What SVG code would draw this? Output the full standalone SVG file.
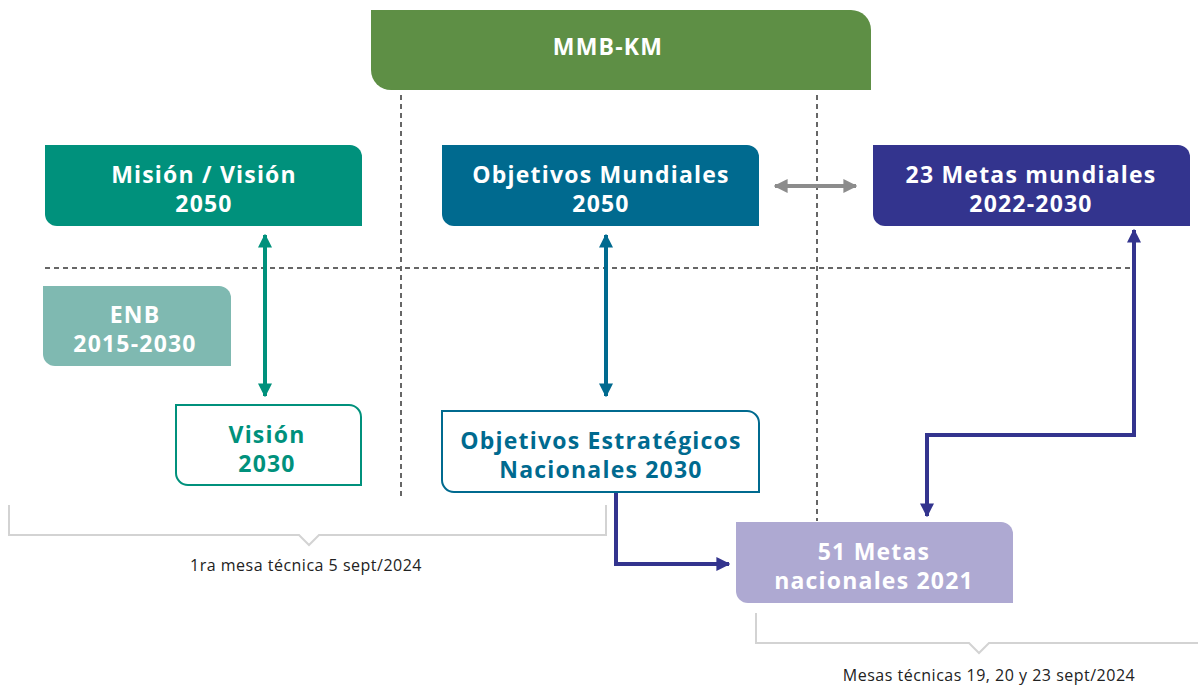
<svg xmlns="http://www.w3.org/2000/svg" width="1198" height="686" viewBox="0 0 1198 686">
<defs>
<style>
.t{font-family:"Open Sans","Liberation Sans",sans-serif;font-weight:700;font-size:23px;letter-spacing:1.2px;text-anchor:middle;fill:#fff}
.s{font-family:"Open Sans","Liberation Sans",sans-serif;font-size:16px;letter-spacing:0.5px;text-anchor:middle;fill:#222}
.dash{stroke:#666;stroke-width:2;stroke-dasharray:5 4;fill:none}
.br{stroke:#d3d3d3;stroke-width:2;fill:none}
</style>
<marker id="aTeal" viewBox="0 0 10 10" refX="9" refY="5" markerWidth="14" markerHeight="14" markerUnits="userSpaceOnUse" orient="auto-start-reverse"><path d="M0,0L10,5L0,10z" fill="#00917c"/></marker>
<marker id="aBlue" viewBox="0 0 10 10" refX="9" refY="5" markerWidth="14" markerHeight="14" markerUnits="userSpaceOnUse" orient="auto-start-reverse"><path d="M0,0L10,5L0,10z" fill="#006a8f"/></marker>
<marker id="aNavy" viewBox="0 0 10 10" refX="9" refY="5" markerWidth="14" markerHeight="14" markerUnits="userSpaceOnUse" orient="auto-start-reverse"><path d="M0,0L10,5L0,10z" fill="#33348e"/></marker>
<marker id="aGray" viewBox="0 0 10 10" refX="9" refY="5" markerWidth="14" markerHeight="14" markerUnits="userSpaceOnUse" orient="auto-start-reverse"><path d="M0,0L10,5L0,10z" fill="#8c8c8c"/></marker>
</defs>
<rect width="1198" height="686" fill="#fff"/>
<g id="grid">
<line class="dash" x1="401" y1="95" x2="401" y2="496"/>
<line class="dash" x1="817" y1="95" x2="817" y2="521"/>
<line class="dash" x1="45" y1="268" x2="1134" y2="268"/>
</g>
<g id="mmb">
<path d="M371,10H851A20,20 0 0 1 871,30V90H391A20,20 0 0 1 371,70Z" fill="#5e8f45"/>
<text class="t" x="608" y="55">MMB-KM</text>
</g>
<g id="mision">
<path d="M45,145H350A12,12 0 0 1 362,157V226H57A12,12 0 0 1 45,214Z" fill="#00917c"/>
<text class="t" x="204" y="183">Misión / Visión</text>
<text class="t" x="204" y="212">2050</text>
</g>
<g id="objmund">
<path d="M442,145H747A12,12 0 0 1 759,157V226H454A12,12 0 0 1 442,214Z" fill="#006a8f"/>
<text class="t" x="601" y="183">Objetivos Mundiales</text>
<text class="t" x="601" y="212">2050</text>
</g>
<g id="metasmund">
<path d="M873,145H1178A12,12 0 0 1 1190,157V226H885A12,12 0 0 1 873,214Z" fill="#33348e"/>
<text class="t" x="1031" y="183">23 Metas mundiales</text>
<text class="t" x="1031" y="212">2022-2030</text>
</g>
<g id="enb">
<path d="M43,286H219A12,12 0 0 1 231,298V366H55A12,12 0 0 1 43,354Z" fill="#7fb9b1"/>
<text class="t" x="135" y="323">ENB</text>
<text class="t" x="135" y="352">2015-2030</text>
</g>
<g id="vision">
<path d="M176,405H349A12,12 0 0 1 361,417V485H188A12,12 0 0 1 176,473Z" fill="#fff" stroke="#00917c" stroke-width="2"/>
<text class="t" x="267" y="443" style="fill:#00917c">Visión</text>
<text class="t" x="267" y="472" style="fill:#00917c">2030</text>
</g>
<g id="objest">
<path d="M442,411H747A12,12 0 0 1 759,423V492H454A12,12 0 0 1 442,480Z" fill="#fff" stroke="#006a8f" stroke-width="2"/>
<text class="t" x="601" y="449" style="fill:#006a8f">Objetivos Estratégicos</text>
<text class="t" x="601" y="478" style="fill:#006a8f">Nacionales 2030</text>
</g>
<g id="metasnac">
<path d="M736,522H1001A12,12 0 0 1 1013,534V603H748A12,12 0 0 1 736,591Z" fill="#aea9d2"/>
<text class="t" x="874" y="560">51 Metas</text>
<text class="t" x="874" y="589">nacionales 2021</text>
</g>
<g id="connectors">
<line x1="265" y1="235" x2="265" y2="396" stroke="#00917c" stroke-width="4" marker-start="url(#aTeal)" marker-end="url(#aTeal)"/>
<line x1="606" y1="235" x2="606" y2="396" stroke="#006a8f" stroke-width="4" marker-start="url(#aBlue)" marker-end="url(#aBlue)"/>
<line x1="775" y1="186" x2="856" y2="186" stroke="#8c8c8c" stroke-width="4" marker-start="url(#aGray)" marker-end="url(#aGray)"/>
<polyline points="1134,230 1134,435 927,435 927,516" fill="none" stroke="#33348e" stroke-width="4" marker-start="url(#aNavy)" marker-end="url(#aNavy)"/>
<polyline points="616,493 616,564 729,564" fill="none" stroke="#33348e" stroke-width="4" marker-end="url(#aNavy)"/>
</g>
<g id="bracket1">
<path class="br" d="M9,505V535H299L309,545L319,535H606V505"/>
<text class="s" x="306" y="571">1ra mesa técnica 5 sept/2024</text>
</g>
<g id="bracket2">
<path class="br" d="M756,613V643H969L979,653L989,643H1198"/>
<text class="s" x="989" y="681">Mesas técnicas 19, 20 y 23 sept/2024</text>
</g>
</svg>
